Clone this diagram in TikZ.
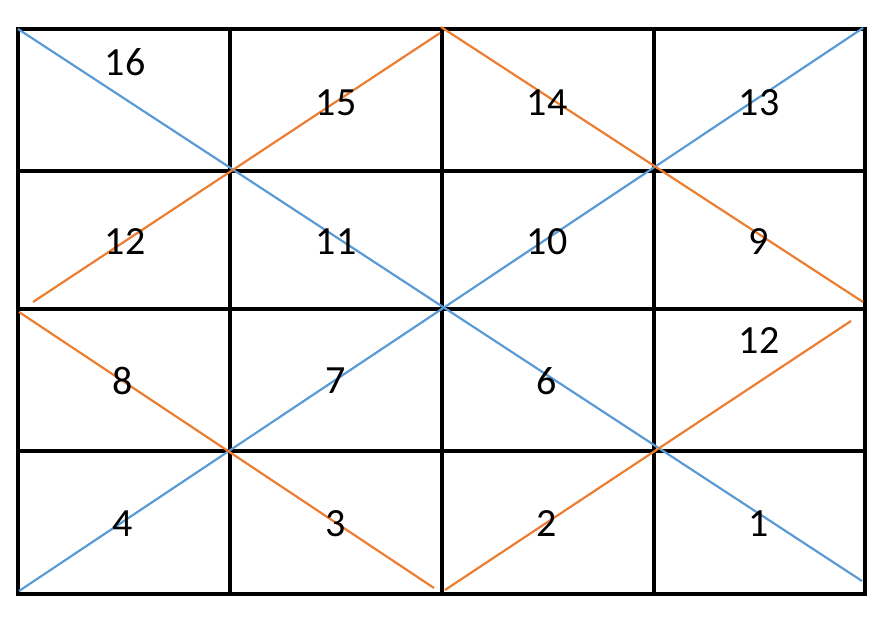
\documentclass[tikz,border=0pt]{standalone}
\usepackage{fontspec}
\setmainfont{Carlito}
\usepackage{xcolor}
\usetikzlibrary{positioning, calc}
\definecolor{diagblue}{RGB}{91, 155, 213}
\definecolor{diagorange}{RGB}{237, 125, 49}

\begin{document}
\begin{tikzpicture}[
    x=1pt, y=-1pt,
    % Styles
    gridline/.style={draw=black, line width=3.2pt},
    blueline/.style={draw=diagblue, line width=2.2pt},
    orangeline/.style={draw=diagorange, line width=2.2pt},
    numlbl/.style={font=\fontsize{40}{40}\selectfont, inner sep=0pt, text=black}
]
    \useasboundingbox (0,0) rectangle (888,642);

    % =========================================================================
    % 1. GRID 4 x 4
    % =========================================================================
    \draw[gridline] (18,29) rectangle (865,594);
    \foreach \gx in {230, 442, 654} {
        \draw[gridline] (\gx,29) -- (\gx,594);
    }
    \foreach \gy in {171, 309, 451} {
        \draw[gridline] (18,\gy) -- (865,\gy);
    }

    % =========================================================================
    % 2. END POINTS OF THE DIAGONALS
    % =========================================================================
    \coordinate (b_tl) at (18,29);
    \coordinate (b_br) at (862,581);
    \coordinate (b_bl) at (19,591);
    \coordinate (b_tr) at (863,28);
    \coordinate (o_top) at (441,27);
    \coordinate (o_l1) at (33,302);
    \coordinate (o_topl) at (440,33);
    \coordinate (o_r1) at (863,302);
    \coordinate (o_l2) at (19,312);
    \coordinate (o_botl) at (434,588);
    \coordinate (o_botr) at (445,590);
    \coordinate (o_r2) at (851,321);

    % =========================================================================
    % 3. DIAGONALS
    % =========================================================================
    \draw[blueline] (b_tl) -- (b_br);
    \draw[blueline] (b_bl) -- (b_tr);
    \draw[orangeline] (o_l1) -- (o_topl);
    \draw[orangeline] (o_top) -- (o_r1);
    \draw[orangeline] (o_l2) -- (o_botl);
    \draw[orangeline] (o_botr) -- (o_r2);

    % =========================================================================
    % 4. CELL NUMBERS
    % =========================================================================
    \node (n16) [numlbl] at (125,62)  {16};
    \node (n15) [numlbl] at (336,103) {15};
    \node (n14) [numlbl] at (547,103) {14};
    \node (n13) [numlbl] at (759,103) {13};
    \node (n12a) [numlbl] at (125,242) {12};
    \node (n11) [numlbl] at (336,242) {11};
    \node (n10) [numlbl] at (547,242) {10};
    \node (n9)  [numlbl] at (759,242) {9};
    \node (n8)  [numlbl] at (123,381) {8};
    \node (n7)  [numlbl] at (336,381) {7};
    \node (n6)  [numlbl] at (547,381) {6};
    \node (n12b) [numlbl] at (759,341) {12};
    \node (n4)  [numlbl] at (123,524) {4};
    \node (n3)  [numlbl] at (336,524) {3};
    \node (n2)  [numlbl] at (547,524) {2};
    \node (n1)  [numlbl] at (759,524) {1};

\end{tikzpicture}
\end{document}
